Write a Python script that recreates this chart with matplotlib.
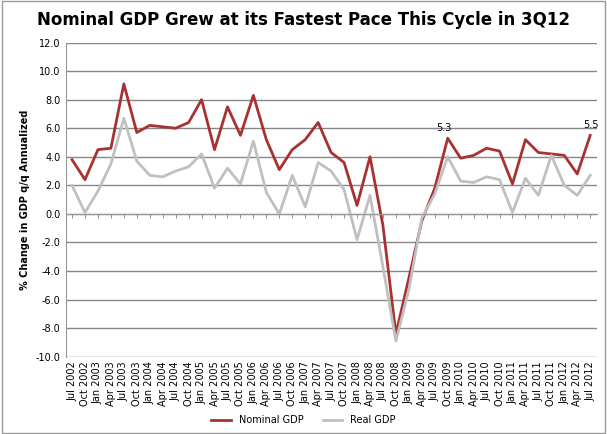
import matplotlib.pyplot as plt
from matplotlib.patches import Rectangle

labels = []
for y in range(2002, 2013):
    for m in ["Jan", "Apr", "Jul", "Oct"]:
        labels.append(f"{m} {y}")
labels = labels[2:2 + 41]

nominal = [3.8, 2.4, 4.5, 4.6, 9.1, 5.7, 6.2, 6.1, 6.0, 6.4, 8.0, 4.5, 7.5, 5.5, 8.3, 5.2,
           3.1, 4.5, 5.2, 6.4, 4.3, 3.6, 0.6, 4.0, -0.8, -8.4, -4.5, -0.5, 1.8, 5.3, 3.9,
           4.1, 4.6, 4.4, 2.1, 5.2, 4.3, 4.2, 4.1, 2.8, 5.5]
real = [2.0, 0.1, 1.6, 3.5, 6.7, 3.7, 2.7, 2.6, 3.0, 3.3, 4.2, 1.8, 3.2, 2.1, 5.1, 1.5,
        0.0, 2.7, 0.5, 3.6, 3.0, 1.7, -1.8, 1.3, -3.7, -8.9, -5.3, -0.3, 1.4, 4.0, 2.3,
        2.2, 2.6, 2.4, 0.1, 2.5, 1.3, 4.1, 2.0, 1.3, 2.7]

fig = plt.figure(figsize=(6.07, 4.34), dpi=100)
fig.patches.append(Rectangle((0.003, 0.003), 0.994, 0.994, transform=fig.transFigure,
                             fill=False, edgecolor="#999999", lw=1))
ax = fig.add_axes([0.108, 0.178, 0.875, 0.724])
x = list(range(len(labels)))
ax.plot(x, nominal, color="#a83232", lw=2, label="Nominal GDP")
ax.plot(x, real, color="#c0c0c0", lw=2, label="Real GDP")
ax.set_xlim(-0.5, len(labels) - 0.5)
ax.set_ylim(-10, 12)
ax.set_yticks(range(-10, 13, 2))
ax.set_yticklabels([f"{v:.1f}" for v in range(-10, 13, 2)], fontsize=7)
ax.yaxis.grid(True, color="#888888", lw=1)
ax.set_axisbelow(True)
ax.set_xticks(x)
ax.set_xticklabels([])
ax.tick_params(axis="x", length=3, color="#999999")
ax.tick_params(axis="y", length=0)
for s in ["top", "right"]:
    ax.spines[s].set_visible(False)
ax.spines["left"].set_color("#999999")
ax.spines["bottom"].set_position(("data", 0))
ax.spines["bottom"].set_color("#999999")
for i, lab in enumerate(labels):
    ax.text(i, -10.3, lab, rotation=90, ha="center", va="top", fontsize=7)
ax.set_ylabel("% Change in GDP q/q Annualized", fontsize=7, fontweight="bold")
ax.annotate("5.3", (29, 5.3), xytext=(-8, 5), textcoords="offset points", fontsize=7)
ax.annotate("5.5", (40, 5.5), xytext=(-5, 5), textcoords="offset points", fontsize=7)
fig.suptitle("Nominal GDP Grew at its Fastest Pace This Cycle in 3Q12", fontsize=12,
             fontweight="bold", y=0.975)
fig.legend(loc="lower center", ncol=2, frameon=False, fontsize=7, bbox_to_anchor=(0.5, 0.0))
fig.savefig("out.png")
